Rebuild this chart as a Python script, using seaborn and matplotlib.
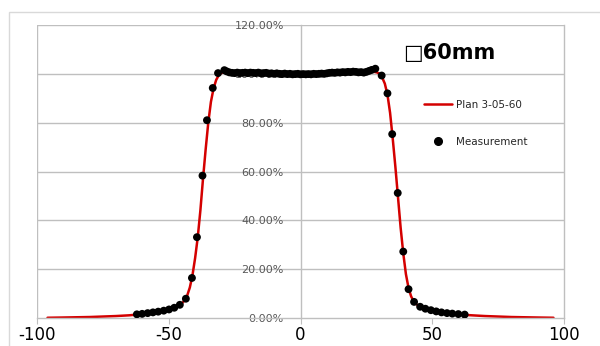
import matplotlib
matplotlib.use("Agg")
import matplotlib.pyplot as plt
import seaborn as sns
import pandas as pd
from matplotlib.patches import Rectangle
from matplotlib.lines import Line2D

# ---- data ----
plan_x = [-96, -90, -85, -80, -75, -70, -65, -62, -60, -58, -56, -54, -52, -50, -48, -46, -45, -44, -43, -42,
          -41, -40, -39, -38, -37, -36, -35, -34, -33, -32, -31, -30, -29, -28, -20, -10, 0, 10, 20, 27,
          28, 29, 30, 31, 32, 33, 34, 35, 36, 37, 38, 39, 40, 41, 42, 43, 44, 46, 48, 50,
          52, 54, 56, 58, 60, 62, 65, 70, 75, 80, 85, 90, 96]
plan_y = [0.1, 0.2, 0.3, 0.4, 0.6, 0.8, 1.1, 1.4, 1.6, 1.9, 2.2, 2.5, 2.9, 3.4, 4.1, 5.2, 6.0, 7.2, 9.2, 12.5,
          17.5, 24.5, 33.0, 44.0, 57.0, 69.0, 80.0, 88.5, 94.0, 97.5, 99.5, 100.4, 100.7, 100.8, 100.5, 100.2, 100.0, 100.3, 100.6, 100.9,
          100.8, 100.6, 100.0, 98.5, 96.0, 91.5, 84.0, 73.5, 62.0, 49.5, 37.0, 26.5, 18.0, 12.3, 8.8, 6.8, 5.6, 4.5, 3.7, 3.1,
          2.6, 2.2, 1.9, 1.7, 1.5, 1.3, 1.1, 0.8, 0.6, 0.4, 0.3, 0.2, 0.1]

meas_x = [-62.1, -60.1, -58.0, -56.0, -54.0, -51.9, -49.9, -47.9, -45.8, -43.5, -41.2, -39.3, -37.2, -35.5, -33.3, -31.3, -28.9,
          -28, -27, -26, -25, -24, -23, -22, -21, -20, -19, -18, -17, -16, -15, -14, -13, -12, -11, -10, -9, -8, -7, -6, -5,
          -4, -3, -2, -1, 0, 1, 2, 3, 4, 5, 6, 7, 8, 9, 10, 11, 12, 13, 14, 15, 16, 17, 18, 19, 20, 21, 22, 23, 24, 25, 26, 27,
          28.4, 30.8, 33.0, 34.8, 36.9, 39.0, 41.0, 43.1, 45.4, 47.4, 49.5, 51.5, 53.5, 55.6, 57.6, 59.9, 62.3]
meas_y = [1.5, 1.7, 2.0, 2.3, 2.6, 3.0, 3.5, 4.2, 5.4, 7.9, 16.4, 33.1, 58.3, 81.0, 94.2, 100.3, 101.5,
          101.0, 100.6, 100.4, 100.3, 100.5, 100.3, 100.4, 100.5, 100.3, 100.5, 100.4, 100.3, 100.5, 100.2, 100.3, 100.4, 100.1, 100.2, 100.0, 100.2, 100.0, 99.9, 100.1, 99.9,
          100.0, 99.8, 99.9, 100.0, 99.8, 99.9, 99.8, 99.9, 99.8, 100.0, 99.9, 100.0, 100.1, 100.0, 100.2, 100.4, 100.5, 100.4, 100.6, 100.5, 100.7, 100.6, 100.8, 100.7, 100.9, 100.8, 100.6, 100.7, 100.5, 100.8, 101.2, 101.6,
          102.1, 99.3, 92.0, 75.3, 51.2, 27.2, 11.8, 6.6, 4.6, 3.8, 3.2, 2.7, 2.3, 2.0, 1.8, 1.6, 1.4]

x_ticks = [-100, -50, 0, 50, 100]
y_ticks = [0, 20, 40, 60, 80, 100, 120]
y_tick_labels = ["0.00%", "20.00%", "40.00%", "60.00%", "80.00%", "100.00%", "120.00%"]
title_text = "\u25a160mm"
plan_label = "Plan 3-05-60"
meas_label = "Measurement"

# ---- plot ----
sns.set_style("white")
plt.rcParams['font.family'] = ['DejaVu Sans']

fig = plt.figure(figsize=(6.0, 3.46), dpi=100)
W, H = 600, 346
ax = fig.add_axes([37 / W, 1 - 318 / H, (564 - 37) / W, (318 - 25) / H])

plan_df = pd.DataFrame({"x": plan_x, "y": plan_y})
meas_df = pd.DataFrame({"x": meas_x, "y": meas_y})

grid_c = "#bfbfbf"
for yv in y_ticks[1:]:
    ax.axhline(yv, color=grid_c, lw=1.0, zorder=0)
ax.axvline(-100, color=grid_c, lw=1.0, zorder=0)

sns.lineplot(data=plan_df, x="x", y="y", ax=ax, color="#d40000", lw=1.8, zorder=2, sort=False)
sns.scatterplot(data=meas_df, x="x", y="y", ax=ax, color="black", s=32, edgecolor="none", zorder=3)

ax.set_xlim(-100, 100)
ax.set_ylim(0, 120)
ax.set_xlabel("")
ax.set_ylabel("")

ax.spines['left'].set_position(('data', 0))
for s in ['left', 'bottom', 'right']:
    ax.spines[s].set_color(grid_c)
    ax.spines[s].set_linewidth(1.0)
ax.spines['top'].set_visible(False)

ax.set_xticks(x_ticks)
ax.set_xticklabels([str(v) for v in x_ticks], fontsize=12, color="black")
ax.tick_params(axis='x', length=4, color=grid_c, pad=2, direction='out', bottom=True)
ax.set_yticks(y_ticks)
ax.set_yticklabels(y_tick_labels, fontsize=8, color="#595959")
ax.tick_params(axis='y', length=0, pad=12)

ax.text(39, 108.6, title_text, fontsize=15, fontweight='bold', ha='left', va='center', color="black")

handles = [Line2D([0], [0], color="#d40000", lw=1.8),
           Line2D([0], [0], color="black", marker='o', linestyle='none', markersize=5.5)]
leg = ax.legend(handles, [plan_label, meas_label], loc='upper left',
                bbox_to_anchor=(424 / W, 1 - 100 / H), bbox_transform=fig.transFigure,
                frameon=False, fontsize=7.5, handlelength=2.7, handletextpad=0.35,
                labelspacing=2.6, borderpad=0, borderaxespad=0)
for t in leg.get_texts():
    t.set_color("#262626")

fig.patches.append(Rectangle((9 / W, -0.1), 1.2, 1.1 - 12 / H,
                             transform=fig.transFigure, fill=False, edgecolor="#d9d9d9", lw=1.0))

fig.savefig("out.png", dpi=100)
